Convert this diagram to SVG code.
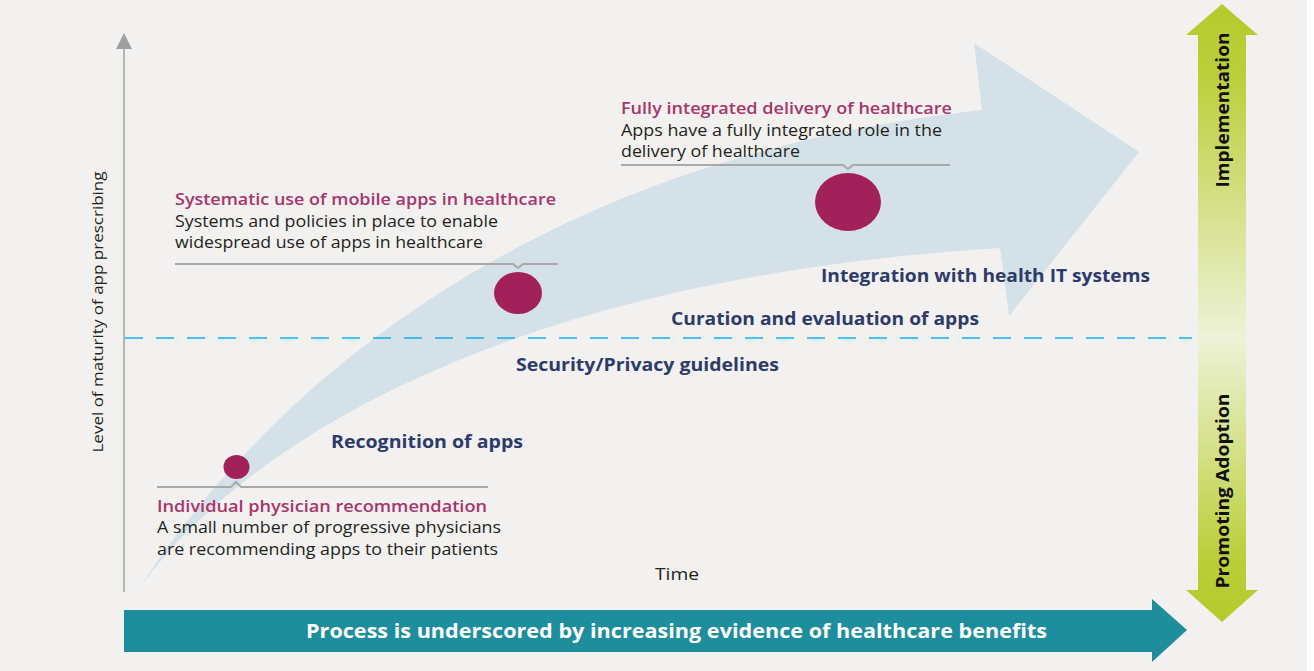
<svg xmlns="http://www.w3.org/2000/svg" width="1314" height="671" viewBox="0 0 1314 671">
<style>
.ttl{font-family:"Open Sans","Noto Sans",sans-serif;font-weight:600;font-size:16px;fill:#a8356c}
.body{font-family:"Open Sans","Noto Sans",sans-serif;font-size:16px;fill:#231f20}
.lbl{font-family:"Open Sans","Noto Sans",sans-serif;font-weight:700;font-size:17px;fill:#2e3b6a}
.ax{font-family:"Open Sans","Noto Sans",sans-serif;font-size:15px;fill:#231f20}
.time{font-family:"Open Sans","Noto Sans",sans-serif;font-size:17px;fill:#231f20}
.side{font-family:"Open Sans","Noto Sans",sans-serif;font-weight:700;font-size:18px;fill:#111}
.dot{fill:#a3215b}
.call{fill:none;stroke:#a9a9a9;stroke-width:2}
</style>
<defs>
<linearGradient id="grn" x1="0" y1="4" x2="0" y2="622" gradientUnits="userSpaceOnUse">
<stop offset="0" stop-color="#b4ca2c"/>
<stop offset="0.12" stop-color="#bccf3c"/>
<stop offset="0.54" stop-color="#eef2d8"/>
<stop offset="0.9" stop-color="#bacf38"/>
<stop offset="1" stop-color="#b4ca2c"/>
</linearGradient>
</defs>
<rect x="0" y="0" width="1314" height="671" fill="#ffffff"/>
<rect x="0" y="0" width="1307" height="671" fill="#f2f1ef"/>

<g id="growth-arrow">
<path d="M138,590 C260,400 520,160 982,110 L974,43 L1139,152 L1009,316 L1000,248 C480,280 230,460 138,590 Z" fill="#d5e1e8"/>
</g>

<g id="connectors">
<line x1="124" y1="592" x2="124" y2="47" stroke="#a0a0a0" stroke-width="1.5"/>
<polygon points="124,33 116,49 132,49" fill="#a0a0a0"/>
<line x1="125" y1="338" x2="1192" y2="338" stroke="#12aeec" stroke-width="1.7" stroke-dasharray="18 13"/>
<path class="call" d="M157,487 H231 L236,482 L241,487 H488"/>
<path class="call" d="M175,264 H513 L518,268 L523,264 H558"/>
<path class="call" d="M621,165 H843 L848,169 L853,165 H950"/>
</g>

<g id="y-axis-label">
<text class="ax" transform="translate(103,312) rotate(-90)" text-anchor="middle" textLength="281" lengthAdjust="spacingAndGlyphs">Level of maturity of app prescribing</text>
</g>
<g id="x-axis-label">
<text class="time" x="677" y="580" text-anchor="middle" textLength="44" lengthAdjust="spacingAndGlyphs">Time</text>
</g>

<g id="stage-individual">
<ellipse class="dot" cx="236.5" cy="467" rx="13" ry="12"/>
<text class="ttl" x="157" y="512" textLength="330" lengthAdjust="spacingAndGlyphs">Individual physician recommendation</text>
<text class="body" x="157" y="533" textLength="344" lengthAdjust="spacingAndGlyphs">A small number of progressive physicians</text>
<text class="body" x="157" y="555" textLength="341" lengthAdjust="spacingAndGlyphs">are recommending apps to their patients</text>
</g>

<g id="stage-systematic">
<ellipse class="dot" cx="518" cy="293" rx="24" ry="21"/>
<text class="ttl" x="175" y="205" textLength="381" lengthAdjust="spacingAndGlyphs">Systematic use of mobile apps in healthcare</text>
<text class="body" x="175" y="227" textLength="323" lengthAdjust="spacingAndGlyphs">Systems and policies in place to enable</text>
<text class="body" x="175" y="248" textLength="308" lengthAdjust="spacingAndGlyphs">widespread use of apps in healthcare</text>
</g>

<g id="stage-integrated">
<ellipse class="dot" cx="848" cy="202" rx="33" ry="29"/>
<text class="ttl" x="621" y="114" textLength="331" lengthAdjust="spacingAndGlyphs">Fully integrated delivery of healthcare</text>
<text class="body" x="621" y="136" textLength="321" lengthAdjust="spacingAndGlyphs">Apps have a fully integrated role in the</text>
<text class="body" x="621" y="157" textLength="179" lengthAdjust="spacingAndGlyphs">delivery of healthcare</text>
</g>

<g id="milestone-labels">
<text class="lbl" x="331" y="448" textLength="192" lengthAdjust="spacingAndGlyphs">Recognition of apps</text>
<text class="lbl" x="516" y="371" textLength="263" lengthAdjust="spacingAndGlyphs">Security/Privacy guidelines</text>
<text class="lbl" x="671" y="325" textLength="308" lengthAdjust="spacingAndGlyphs">Curation and evaluation of apps</text>
<text class="lbl" x="821" y="282" textLength="329" lengthAdjust="spacingAndGlyphs">Integration with health IT systems</text>
</g>

<g id="evidence-bar">
<polygon points="124,610 1152,610 1152,599 1187,630 1152,662 1152,652 124,652" fill="#1e8e9c"/>
<text x="306" y="638" font-family="Open Sans, Noto Sans, sans-serif" font-weight="700" font-size="19" fill="#ffffff" textLength="741" lengthAdjust="spacingAndGlyphs">Process is underscored by increasing evidence of healthcare benefits</text>
</g>

<g id="side-arrow">
<polygon points="1222,4 1258,35 1246,35 1246,590 1258,590 1222,622 1186,590 1198,590 1198,35 1186,35" fill="url(#grn)"/>
<text class="side" transform="translate(1229,110) rotate(-90)" text-anchor="middle" textLength="155" lengthAdjust="spacingAndGlyphs">Implementation</text>
<text class="side" transform="translate(1229,491) rotate(-90)" text-anchor="middle" textLength="195" lengthAdjust="spacingAndGlyphs">Promoting Adoption</text>
</g>
</svg>
